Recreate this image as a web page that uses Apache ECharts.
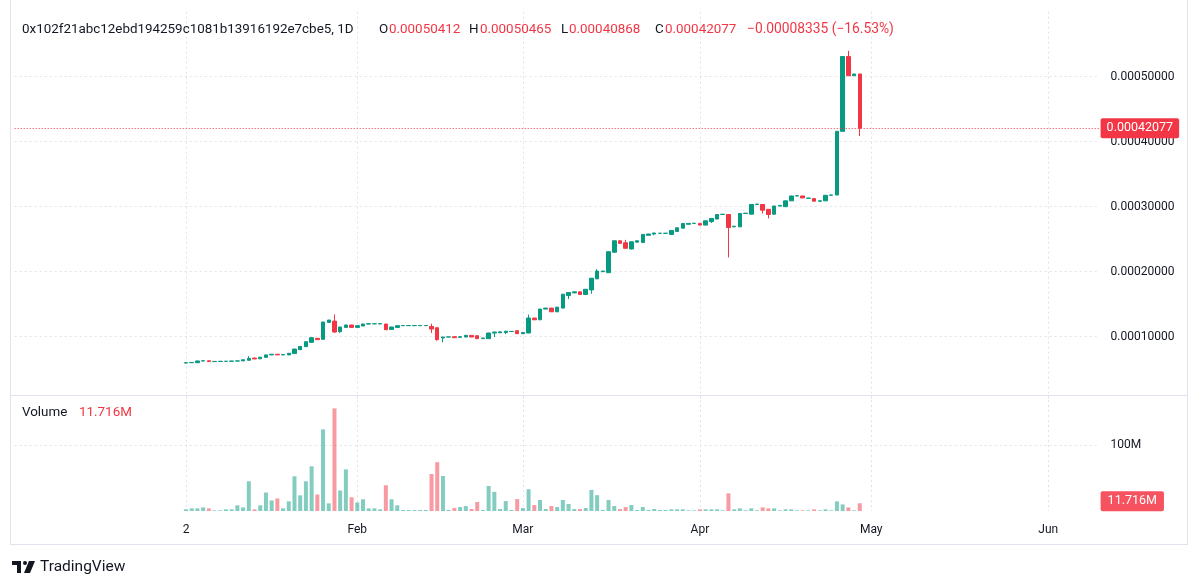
<!DOCTYPE html>
<html><head><meta charset="utf-8">
<script src="https://cdn.jsdelivr.net/npm/echarts@6/dist/echarts.min.js"></script>
<style>html,body{margin:0;padding:0;background:#fff}#c{width:1200px;height:588px}</style>
</head><body><div id="c"></div>
<script>
// ---------- data ----------
const symbolName = '0x102f21abc12ebd194259c1081b13916192e7cbe5, 1D';
const firstCategory = '2023-12-03';
const categoryCount = 191;
const firstCandleDate = '2024-01-02';
const tickDates = ['2024-01-02', '2024-02-01', '2024-03-01', '2024-04-01', '2024-05-01', '2024-06-01'];
const tickLabels = ['2', 'Feb', 'Mar', 'Apr', 'May', 'Jun'];

const opens = [
0.00005950,0.00006000,0.00006000,0.00006270,0.00006300,0.00006170,0.00006200,0.00006210,0.00006220,0.00006250,
0.00006280,0.00006370,0.00006720,0.00006600,0.00006830,0.00007200,0.00007300,0.00007200,0.00007200,0.00007400,
0.00008000,0.00008470,0.00009130,0.00009750,0.00009600,0.00012200,0.00012400,0.00010770,0.00011430,0.00011800,
0.00011430,0.00011650,0.00011950,0.00011980,0.00011970,0.00011950,0.00011120,0.00011430,0.00011700,0.00011700,
0.00011700,0.00011700,0.00011700,0.00011580,0.00011380,0.00009800,0.00009950,0.00010000,0.00009900,0.00009950,
0.00010200,0.00010150,0.00009700,0.00009700,0.00010570,0.00010600,0.00010650,0.00010800,0.00010920,0.00010460,
0.00010570,0.00012870,0.00012600,0.00014250,0.00014400,0.00013830,0.00014400,0.00016330,0.00016740,0.00016900,
0.00016500,0.00017200,0.00018900,0.00020000,0.00019850,0.00023000,0.00024760,0.00024450,0.00023500,0.00024550,
0.00024500,0.00025600,0.00025800,0.00025900,0.00025900,0.00025740,0.00026200,0.00026700,0.00027300,0.00027430,
0.00027430,0.00027170,0.00027700,0.00028100,0.00028800,0.00028800,0.00026900,0.00026900,0.00028950,0.00028850,
0.00030340,0.00030340,0.00029600,0.00028850,0.00030100,0.00030000,0.00030900,0.00031650,0.00031650,0.00031300,
0.00031250,0.00030850,0.00030900,0.00031760,0.00031800,0.00041600,0.00053100,0.00050150,0.00050412];
const highs = [
0.00006020,0.00006060,0.00006300,0.00006320,0.00006320,0.00006220,0.00006220,0.00006240,0.00006270,0.00006300,
0.00006480,0.00007000,0.00006750,0.00006880,0.00007220,0.00007330,0.00007330,0.00007280,0.00007480,0.00008130,
0.00008530,0.00009260,0.00009880,0.00009780,0.00012300,0.00012600,0.00013420,0.00011520,0.00011830,0.00011830,
0.00011730,0.00011980,0.00012030,0.00012030,0.00012020,0.00011980,0.00011520,0.00011730,0.00011740,0.00011740,
0.00011740,0.00011740,0.00011740,0.00012000,0.00011400,0.00009980,0.00009990,0.00010020,0.00010020,0.00010300,
0.00010220,0.00010170,0.00009820,0.00010600,0.00010750,0.00010770,0.00010880,0.00010840,0.00010940,0.00010670,
0.00013400,0.00012890,0.00014280,0.00014430,0.00014430,0.00014580,0.00016570,0.00016830,0.00016930,0.00016920,
0.00017330,0.00019030,0.00020400,0.00020130,0.00023100,0.00024790,0.00024780,0.00024900,0.00024630,0.00024790,
0.00025770,0.00025830,0.00025980,0.00025940,0.00025940,0.00026380,0.00026780,0.00027460,0.00027460,0.00027480,
0.00027460,0.00027860,0.00028230,0.00028830,0.00028880,0.00028830,0.00027030,0.00028990,0.00029030,0.00030370,
0.00030430,0.00030370,0.00029630,0.00030130,0.00030230,0.00030930,0.00031680,0.00031710,0.00031680,0.00031350,
0.00031280,0.00030930,0.00031790,0.00031830,0.00041630,0.00053130,0.00053980,0.00050440,0.00050465];
const lows = [
0.00005920,0.00005980,0.00005980,0.00006250,0.00006150,0.00006150,0.00006180,0.00006190,0.00006200,0.00006230,
0.00006260,0.00006350,0.00006550,0.00006570,0.00006800,0.00007180,0.00007170,0.00007180,0.00007180,0.00007380,
0.00007970,0.00008450,0.00009100,0.00009500,0.00009570,0.00012170,0.00010600,0.00010600,0.00011400,0.00011400,
0.00011400,0.00011630,0.00011930,0.00011960,0.00011950,0.00011050,0.00011100,0.00011410,0.00011680,0.00011680,
0.00011680,0.00011680,0.00011680,0.00010570,0.00009400,0.00009130,0.00009930,0.00009830,0.00009880,0.00009930,
0.00009930,0.00009680,0.00009680,0.00009680,0.00009950,0.00010580,0.00010400,0.00010780,0.00010440,0.00010440,
0.00010550,0.00012580,0.00012580,0.00014230,0.00013810,0.00013810,0.00014380,0.00015800,0.00016720,0.00016480,
0.00016400,0.00016600,0.00018880,0.00019980,0.00019800,0.00022900,0.00024340,0.00023580,0.00023400,0.00024530,
0.00024480,0.00025580,0.00025600,0.00025880,0.00025880,0.00025720,0.00026180,0.00026680,0.00027280,0.00027410,
0.00027150,0.00027150,0.00027500,0.00028080,0.00028780,0.00022200,0.00026880,0.00026880,0.00028930,0.00028830,
0.00030320,0.00028950,0.00028200,0.00028830,0.00030080,0.00029980,0.00030880,0.00031630,0.00031330,0.00031280,
0.00030830,0.00030830,0.00030880,0.00031740,0.00031780,0.00041580,0.00050100,0.00050130,0.00040868];
const closes = [
0.00006000,0.00006040,0.00006270,0.00006300,0.00006170,0.00006200,0.00006210,0.00006220,0.00006250,0.00006280,
0.00006450,0.00006670,0.00006580,0.00006850,0.00007200,0.00007300,0.00007200,0.00007250,0.00007450,0.00008100,
0.00008500,0.00009230,0.00009850,0.00009550,0.00012250,0.00012560,0.00010720,0.00011490,0.00011800,0.00011430,
0.00011700,0.00011950,0.00012000,0.00012000,0.00012000,0.00011070,0.00011490,0.00011700,0.00011720,0.00011720,
0.00011720,0.00011720,0.00011720,0.00011180,0.00009540,0.00009950,0.00009970,0.00009850,0.00010000,0.00010200,
0.00009950,0.00009700,0.00009800,0.00010570,0.00010720,0.00010750,0.00010850,0.00010820,0.00010460,0.00010650,
0.00012870,0.00012600,0.00014250,0.00014400,0.00013830,0.00014550,0.00016540,0.00016800,0.00016900,0.00016500,
0.00017300,0.00019000,0.00020100,0.00020100,0.00023070,0.00024760,0.00024360,0.00023600,0.00024600,0.00024760,
0.00025740,0.00025800,0.00025950,0.00025920,0.00025920,0.00026350,0.00026750,0.00027430,0.00027430,0.00027450,
0.00027170,0.00027830,0.00028200,0.00028800,0.00028850,0.00026800,0.00027000,0.00028960,0.00029000,0.00030340,
0.00030400,0.00029460,0.00028800,0.00030100,0.00030200,0.00030900,0.00031650,0.00031680,0.00031350,0.00031320,
0.00030850,0.00030900,0.00031760,0.00031800,0.00041600,0.00053100,0.00050150,0.00050412,0.00042077];
const volumes = [
2.5e6,4e6,4e6,5.5e6,4e6,1e6,1e6,2.5e6,2.5e6,8.6e6,
5.5e6,45e6,2.5e6,8.6e6,28e6,16e6,19e6,4e6,14.6e6,52.5e6,
23.7e6,45e6,67.7e6,25e6,123.7e6,11.6e6,155.5e6,31e6,63e6,20.7e6,
13e6,17.7e6,4e6,4e6,2.5e6,39e6,17.7e6,8.6e6,1.5e6,1.5e6,
1.5e6,1.5e6,1.5e6,56e6,74e6,53e6,1.5e6,4.5e6,6e6,7.5e6,
3e6,13.6e6,1.5e6,38e6,29e6,3e6,15e6,1.5e6,18e6,4.5e6,
33e6,9e6,16.7e6,3e6,7.5e6,6e6,16.7e6,10.6e6,3e6,3e6,
4.5e6,32e6,24e6,1.5e6,16.7e6,7.5e6,3e6,6e6,9e6,1.5e6,
6e6,1.5e6,3e6,1.5e6,1.5e6,2.5e6,2.5e6,2.5e6,1e6,1e6,
2.5e6,2.5e6,2.5e6,2.5e6,1e6,26.7e6,2.5e6,4e6,1e6,4e6,
1e6,5.5e6,4e6,4e6,1e6,2.5e6,2.5e6,1e6,1e6,1e6,
2.5e6,1e6,2.5e6,1e6,14.6e6,10e6,5.5e6,1e6,11.716e6];

// ---------- styles ----------
const UP = '#089981', DOWN = '#f23645';
const UP_VOL = 'rgba(8,153,129,0.5)', DOWN_VOL = 'rgba(242,54,69,0.5)';
const TEXT = '#131722', GRID = '#e0e3eb', BORDER = '#e0e3eb';
const FONT = 'Roboto, "Noto Sans", sans-serif';

// ---------- build ----------
const categories = [];
{
  const t0 = Date.parse(firstCategory + 'T00:00:00Z');
  for (let i = 0; i < categoryCount; i++) categories.push(new Date(t0 + i * 86400000).toISOString().slice(0, 10));
}
const offset = categories.indexOf(firstCandleDate);
const tickIdx = new Map(tickDates.map((d, i) => [categories.indexOf(d), tickLabels[i]]));
const n = closes.length;
const candleData = [], volData = [];
for (let k = 0; k < n; k++) {
  candleData.push([offset + k, opens[k], closes[k], lows[k], highs[k]]);
  volData.push({ value: [offset + k, volumes[k]], itemStyle: { color: closes[k] < opens[k] ? DOWN_VOL : UP_VOL } });
}
const lastO = opens[n - 1], lastC = closes[n - 1];
const prevC = closes[n - 2];
const chg = lastC - prevC, pct = chg / prevC * 100;
const fmt = v => v.toFixed(8);
const minus = s => s.replace('-', '\u2212');
const lastVolText = (volumes[n - 1] / 1e6).toFixed(3) + 'M';

const splitInterval = (idx) => tickIdx.has(idx);
const dotted = { color: GRID, type: [2, 3], width: 1 };
const HF = '13.4px ' + FONT;

const chart = echarts.init(document.getElementById('c'));
const hdrY = 30;
const txt = (text, x, y, fill, font) => ({ type: 'text', z: 20, style: { text, x, y, fill, font: font || HF, verticalAlign: 'middle' } });
chart.setOption({
  animation: false,
  backgroundColor: '#fff',
  grid: [
    { left: 14.7, width: 1084.9, top: 11.7, height: 390 },
    { left: 14.7, width: 1084.9, top: 395, height: 116 }
  ],
  xAxis: [
    { type: 'category', gridIndex: 0, data: categories, boundaryGap: false,
      axisLine: { show: false }, axisTick: { show: false }, axisLabel: { show: false },
      splitLine: { show: true, interval: splitInterval, lineStyle: dotted } },
    { type: 'category', gridIndex: 1, data: categories, boundaryGap: false,
      axisLine: { show: false }, axisTick: { show: false },
      axisLabel: { interval: splitInterval, formatter: (v, i) => tickIdx.get(i) || '', color: TEXT, fontSize: 12, fontFamily: FONT, margin: 13 },
      splitLine: { show: true, interval: splitInterval, lineStyle: dotted } }
  ],
  yAxis: [
    { type: 'value', gridIndex: 0, position: 'right', min: 0, max: 0.0006, interval: 0.0001,
      axisLine: { show: false }, axisTick: { show: false },
      axisLabel: { formatter: v => fmt(v), color: TEXT, fontSize: 12, fontFamily: FONT, margin: 11, showMinLabel: false, showMaxLabel: false },
      splitLine: { show: true, lineStyle: dotted, showMinLine: false, showMaxLine: false } },
    { type: 'value', gridIndex: 1, position: 'right', min: 0, max: 116 / 66 * 1e8, interval: 1e8,
      axisLine: { show: false }, axisTick: { show: false },
      axisLabel: { formatter: v => (v / 1e6) + 'M', color: TEXT, fontSize: 12, fontFamily: FONT, margin: 11, showMinLabel: false, showMaxLabel: false },
      splitLine: { show: true, lineStyle: dotted, showMinLine: false, showMaxLine: false } }
  ],
  series: [
    { type: 'candlestick', xAxisIndex: 0, yAxisIndex: 0, data: candleData,
      encode: { x: 0, y: [1, 2, 3, 4] }, barWidth: 4, z: 3,
      itemStyle: { color: UP, color0: DOWN, borderColor: UP, borderColor0: DOWN, borderWidth: 1 } },
    { type: 'line', xAxisIndex: 0, yAxisIndex: 0, data: [[offset + n - 1, lastC]], showSymbol: false,
      lineStyle: { opacity: 0 }, silent: true, z: 4,
      markLine: { silent: true, symbol: ['none', 'none'], animation: false, precision: 10,
        lineStyle: { color: DOWN, type: [1, 2], width: 1 },
        label: { position: 'end', distance: 1, formatter: () => fmt(lastC), color: '#fff', backgroundColor: DOWN,
          padding: [4, 6, 3, 6], borderRadius: 2, fontSize: 12.5, fontFamily: FONT },
        data: [{ yAxis: lastC }] } },
    { type: 'bar', xAxisIndex: 1, yAxisIndex: 1, data: volData, encode: { x: 0, y: 1 }, barWidth: 4 },
    { type: 'line', xAxisIndex: 1, yAxisIndex: 1, data: [[offset + n - 1, volumes[n - 1]]], showSymbol: false,
      lineStyle: { opacity: 0 }, silent: true, z: 4,
      markLine: { silent: true, symbol: ['none', 'none'], animation: false, precision: 10,
        lineStyle: { color: 'rgba(0,0,0,0)', width: 0 },
        label: { show: true, position: 'end', distance: 1, formatter: () => lastVolText, color: '#fff', backgroundColor: '#f7525f',
          padding: [4, 7, 3, 7], borderRadius: 2, fontSize: 12.5, fontFamily: FONT, offset: [0, -2] },
        data: [{ yAxis: volumes[n - 1] }] } }
  ],
  graphic: [
    { type: 'line', shape: { x1: 10.5, y1: 0, x2: 10.5, y2: 544.5 }, style: { stroke: BORDER, lineWidth: 1 }, z: 10 },
    { type: 'line', shape: { x1: 1187.5, y1: 0, x2: 1187.5, y2: 544.5 }, style: { stroke: BORDER, lineWidth: 1 }, z: 10 },
    { type: 'line', shape: { x1: 10, y1: 544.5, x2: 1188, y2: 544.5 }, style: { stroke: BORDER, lineWidth: 1 }, z: 10 },
    { type: 'line', shape: { x1: 10, y1: 395.5, x2: 1188, y2: 395.5 }, style: { stroke: BORDER, lineWidth: 1 }, z: 10 },
    txt(symbolName, 22, hdrY, TEXT),
    txt('O', 379, hdrY, TEXT), txt(fmt(lastO), 389, hdrY, DOWN),
    txt('H', 469, hdrY, TEXT), txt(fmt(highs[n - 1]), 480, hdrY, DOWN),
    txt('L', 561, hdrY, TEXT), txt(fmt(lows[n - 1]), 569, hdrY, DOWN),
    txt('C', 655, hdrY, TEXT), txt(fmt(lastC), 665, hdrY, DOWN),
    txt(minus(chg.toFixed(8)) + ' (' + minus(pct.toFixed(2)) + '%)', 747, hdrY, DOWN, '13.8px ' + FONT),
    txt('Volume', 22, 413, TEXT),
    txt(lastVolText, 79, 413, DOWN),
    { type: 'rect', shape: { x: 12, y: 561, width: 9, height: 4 }, style: { fill: TEXT }, z: 20 },
    { type: 'rect', shape: { x: 17, y: 561, width: 4, height: 12 }, style: { fill: TEXT }, z: 20 },
    { type: 'circle', shape: { cx: 25, cy: 563, r: 2 }, style: { fill: TEXT }, z: 20 },
    { type: 'polygon', shape: { points: [[29, 561], [35, 561], [30, 573], [24, 573]] }, style: { fill: TEXT }, z: 20 },
    txt('TradingView', 40, 567, TEXT, '15.5px ' + FONT)
  ]
});
</script></body></html>
